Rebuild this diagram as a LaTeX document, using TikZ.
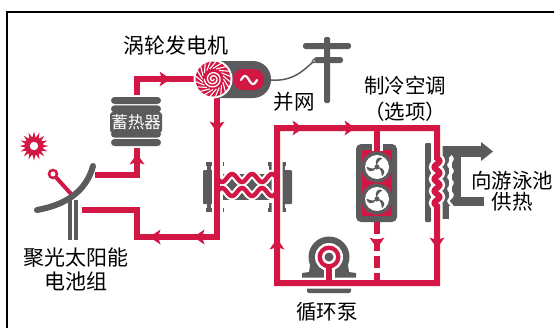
\documentclass[tikz,border=0pt]{standalone}
\usepackage{fontspec}
\setmainfont{Noto Sans CJK SC}
\usetikzlibrary{calc}
\definecolor{pipered}{HTML}{D31745}
\definecolor{icongray}{HTML}{5B5B5D}
\tikzset{
  pipe/.style={draw=pipered, line width=6pt, line cap=butt, line join=miter},
  casing/.style={draw=white, line width=11pt, line cap=butt, line join=miter},
  wavepipe/.style={draw=pipered, line width=4.5pt},
  wavecasing/.style={draw=white, line width=8.5pt},
  txt/.style={text=black, align=center, inner sep=0pt, font=\fontsize{20.5}{25}\selectfont},
  arR/.pic={\fill[pipered] (5.5,0) -- (-5.5,-7.5) -- (-3,0) -- (-5.5,7.5) -- cycle;},
  arL/.pic={\fill[pipered] (-5.5,0) -- (5.5,-7.5) -- (3,0) -- (5.5,7.5) -- cycle;},
  arU/.pic={\fill[pipered] (0,-5.5) -- (-7.5,5.5) -- (0,3) -- (7.5,5.5) -- cycle;},
  arD/.pic={\fill[pipered] (0,5.5) -- (-7.5,-5.5) -- (0,-3) -- (7.5,-5.5) -- cycle;},
  fan/.pic={
    \fill[icongray] (0,0) circle (15.5);
    \fill[white] (0,0) circle (12);
    \foreach \a in {0,120,240}{
      \fill[icongray] (\a:1.5) .. controls (\a+10:8) and (\a+35:11) .. (\a+62:10.5)
        .. controls (\a+45:6) .. (\a+25:2) -- cycle;
    }
    \fill[icongray] (0,0) circle (2.5);
  }
}
\begin{document}
\begin{tikzpicture}[x=1pt,y=-1pt]
\useasboundingbox (0,0) rectangle (554,327);

% frame
\draw[black, line width=2.6pt] (7,330) -- (7,12) -- (556,12);

% pipe junctions
\coordinate (colOut) at (95,175);
\coordinate (riser) at (137,79);
\coordinate (turbIn) at (197,79);
\coordinate (turbOut) at (217,97);
\coordinate (hxLeftLow) at (217,237);
\coordinate (retA) at (137,237);
\coordinate (retB) at (137,210);
\coordinate (colIn) at (82,210);
\coordinate (loopBL) at (277,283);
\coordinate (loopTL) at (277,128);
\coordinate (loopTR) at (437,128);
\coordinate (loopBR) at (437,283);
\coordinate (acIn) at (377,128);
\coordinate (acTop) at (377,151);
\coordinate (acBot) at (377,222);
\coordinate (acRet) at (377,283);
\coordinate (pumpC) at (329,257);
\coordinate (pumpStem) at (329,268);
\coordinate (pumpJoin) at (329,283);

% ---------- solar collector ----------
\begin{scope}[shift={(34,146)}]
  \foreach \a in {0,22.5,...,337.5}
    \fill[pipered] (\a-9:9) -- (\a:14.5) -- (\a+9:9) -- cycle;
  \fill[pipered] (0,0) circle (9.5);
  \fill[white] (0,0) circle (4.2);
\end{scope}
\draw[icongray, line width=4pt] (69.5,200) -- (69.5,240);
\draw[icongray, line width=4pt] (75.5,200) -- (75.5,240);
\draw[pipered, line width=4pt] (53,174) -- (72,195);
\draw[pipered, line width=2.5pt, fill=white] (53,174) circle (4);
\draw[icongray, line width=6pt, line cap=round] (37,210) .. controls (65,205) and (86,192) .. (93,166);

% ---------- heat exchanger (central) ----------
\fill[icongray, rounded corners=1pt] (203,170) rectangle (214,204);
\fill[icongray, rounded corners=1pt] (281,170) rectangle (292,204);
\fill[icongray] (212,174) rectangle (283,200);
\foreach \fx in {206,268}{
  \fill[icongray] (\fx,162) rectangle ++(18,4);
  \fill[icongray] (\fx+1,162) rectangle ++(4,9);
  \fill[icongray] (\fx+13,162) rectangle ++(4,9);
  \fill[icongray] (\fx,208) rectangle ++(18,4);
  \fill[icongray] (\fx+1,203) rectangle ++(4,9);
  \fill[icongray] (\fx+13,203) rectangle ++(4,9);
}

% ---------- air conditioning unit ----------
\fill[icongray, rounded corners=5pt] (356,144) rectangle (397,222);
\fill[pipered] (362,150) rectangle (392,216);
\pic at (377,167) {fan};
\pic at (377,199) {fan};

% ---------- pool heat exchanger ----------
\fill[icongray, rounded corners=1pt] (425,143) rectangle (431,222);
\fill[icongray] (433,146) rectangle (449,219);
\fill[icongray] (452,148) rectangle (461,206);
\fill[icongray] (445,146) rectangle (482,157);
\fill[icongray] (481,142) -- (493,151.5) -- (481,161) -- cycle;
\fill[icongray] (445,197) rectangle (484,206);
\draw[white, line width=2.5pt] plot[domain=156:208, samples=53] ({450.5+2*sin((\x-156)*30)}, \x);

% ---------- circulation pump ----------
\fill[icongray] (pumpC) circle (20.5);
\fill[icongray] (311,258) -- (347,258) -- (349,272) -- (356,273) -- (356,280) -- (302,280) -- (302,273) -- (309,272) -- cycle;
\fill[icongray, rounded corners=2pt] (307,287) rectangle (351,293);
\fill[white] (pumpC) circle (14);
\fill[pipered] (pumpC) circle (11.5);
\fill[white] (pumpC) circle (7);
\fill[icongray] (pumpC) circle (4.5);

% ---------- pipes ----------
\foreach \st/\wst in {casing/wavecasing, pipe/wavepipe}{
  \draw[\st] (colOut) -| (riser) -- (turbIn);
  \draw[\st] (turbOut) -- (hxLeftLow) -- (retA) -- (retB) -- (colIn);
  \draw[\st] (loopBL) -- (loopTL) -- (loopTR) -- (437,158)
     -- plot[domain=158:206, samples=49] ({437+2.5*sin((\x-158)*30)}, \x)
     -- (loopBR) -- cycle;
  \draw[\st] (acIn) -- (acTop);
  \draw[\st] (pumpStem) -- (pumpJoin);
  \draw[\wst] plot[domain=217:277, samples=61] (\x, {178+4*sin((\x-217)*18)});
  \draw[\wst] plot[domain=217:277, samples=61] (\x, {192-4*sin((\x-217)*18)});
}
\draw[pipered, line width=6pt, dash pattern=on 12pt off 5pt] (acBot) -- (acRet);

% flow arrows
\pic at (137,159) {arU};
\pic at (165,79) {arR};
\pic at (217,127) {arD};
\pic at (155,237) {arL};
\pic at (199,237) {arL};
\pic at (298,128) {arR};
\pic at (350,128) {arR};
\pic at (277,244) {arU};
\pic at (377,243) {arD};
\pic at (437,243) {arD};

% ---------- heat storage ----------
\fill[white] (108,95) rectangle (163,148);
\foreach \k in {0,...,5}
  \fill[icongray, rounded corners=3.5pt] (111,97+\k*8.4) rectangle (161,104+\k*8.4);
\fill[icongray, rounded corners=3pt] (110,112) rectangle (162,133);
\node[text=white, inner sep=0pt, font=\fontsize{16.5}{20}\selectfont] (store) at (136,122) {蓄热器};

% ---------- turbine and generator ----------
\fill[icongray, rounded corners=18pt] (200,61) rectangle (271,98);
\fill[pipered, rounded corners=10pt] (233,69) rectangle (264,90);
\draw[white, line width=2.2pt, line cap=round] plot[domain=0:1, samples=25] ({241+\x*16}, {80-4*sin(\x*360)});
\begin{scope}[shift={(213,79)}]
  \fill[white] (0,0) circle (19.5);
  \fill[pipered] (0,0) circle (17.5);
  \foreach \a in {0,18,...,342}
    \draw[white, line width=1.1pt] (\a:10.5) -- (\a+28:17.8);
  \draw[white, line width=1.3pt] plot[domain=0:900, samples=80, variable=\t] ({(0.8+\t/115)*cos(\t)}, {(0.8+\t/115)*sin(\t)});
\end{scope}

% ---------- grid connection ----------
\fill[icongray, rounded corners=1.5pt] (324,37) rectangle (330,103);
\fill[icongray, rounded corners=2.5pt] (303,43) rectangle (351,49);
\fill[icongray, rounded corners=2.5pt] (314,57) rectangle (343,63);
\draw[icongray, line width=1.5pt] (270,80) .. controls (293,82) and (304,70) .. (314,61);
\draw[icongray, line width=1pt, fill=white] (314,61) circle (1.8);

% ---------- labels ----------
\node[txt, font=\fontsize{21}{25}\selectfont] (lblTurbine) at (176,46) {涡轮发电机};
\node[txt] (lblGrid) at (294,102) {并网};
\node[txt, font=\fontsize{20.5}{26}\selectfont] (lblAC) at (405,99) {制冷空调\\（选项）};
\node[txt, font=\fontsize{20.5}{21}\selectfont] (lblPool) at (512,191) {向游泳池\\供热};
\node[txt, font=\fontsize{21}{24}\selectfont] (lblCollector) at (76,269) {聚光太阳能\\电池组};
\node[txt] (lblPump) at (327,312) {循环泵};
\end{tikzpicture}
\end{document}
